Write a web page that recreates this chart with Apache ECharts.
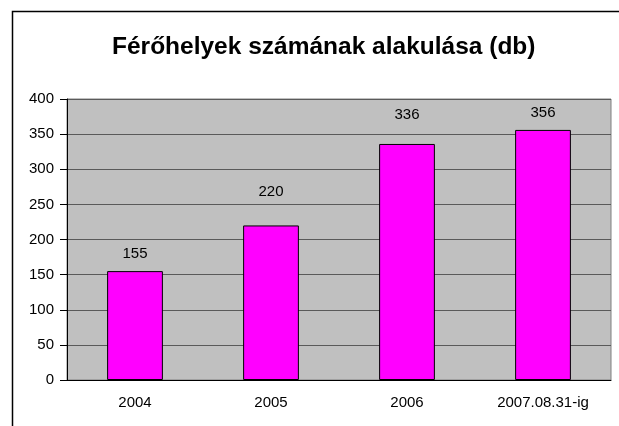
<!DOCTYPE html>
<html>
	<head>
		<title>Férőhelyek</title>
        <meta charset="utf-8">
        <script src="https://cdn.jsdelivr.net/npm/echarts@6/dist/echarts.min.js"></script>
	</head>
	<body style="margin:0;background:#fff;">
        <div id="main" style="width: 619px; height:426px;"></div>
	</body>
</html>

<script type="text/javascript">
    var categories = ['2004', '2005', '2006', '2007.08.31-ig'];
    var values = [155, 220, 336, 356];
    var yTicks = [0, 50, 100, 150, 200, 250, 300, 350, 400];

    // label gap above each bar, as in the original sheet
    var labelGap = [10, 26, 22, 10];

    var font = '"Liberation Sans", Arial, sans-serif';
    var myChart = echarts.init(document.getElementById('main'));

    var barData = values.map(function(v, i) {
        return {
            value: v,
            label: { distance: labelGap[i] }
        };
    });

    var option = {
        animation: false,
        graphic: [{
            type: 'rect',
            shape: { x: 12.5, y: 11.5, width: 700, height: 500 },
            style: { fill: 'none', stroke: '#000', lineWidth: 1.5 }
        }],
        title: {
            text: 'Férőhelyek számának alakulása (db)',
            left: 107,
            top: 30,
            textStyle: {
                fontFamily: font,
                fontSize: 24.5,
                fontWeight: 'bold',
                color: '#000'
            }
        },
        grid: {
            left: 67,
            top: 99,
            right: 8,
            bottom: 46,
            show: true,
            backgroundColor: '#c0c0c0',
            borderColor: '#808080',
            borderWidth: 1
        },
        xAxis: {
            type: 'category',
            data: categories,
            axisLine: { lineStyle: { color: '#000', width: 1 } },
            axisTick: { length: 5, lineStyle: { color: '#808080' } },
            axisLabel: {
                margin: 15,
                fontFamily: font,
                fontSize: 15,
                color: '#000'
            }
        },
        yAxis: {
            type: 'value',
            min: yTicks[0],
            max: yTicks[yTicks.length - 1],
            interval: 50,
            axisLine: { show: true, lineStyle: { color: '#000', width: 1 } },
            axisTick: { show: true, length: 7, lineStyle: { color: '#000' } },
            splitLine: { lineStyle: { color: '#5a5a5a', width: 1 } },
            axisLabel: {
                margin: 13,
                fontFamily: font,
                fontSize: 15,
                color: '#000'
            }
        },
        series: [{
            type: 'bar',
            data: barData,
            barWidth: '41%',
            itemStyle: {
                color: '#ff00ff',
                borderColor: '#000',
                borderWidth: 1
            },
            label: {
                show: true,
                position: 'top',
                fontFamily: font,
                fontSize: 15,
                color: '#000'
            }
        }]
    };

    myChart.setOption(option);
</script>
